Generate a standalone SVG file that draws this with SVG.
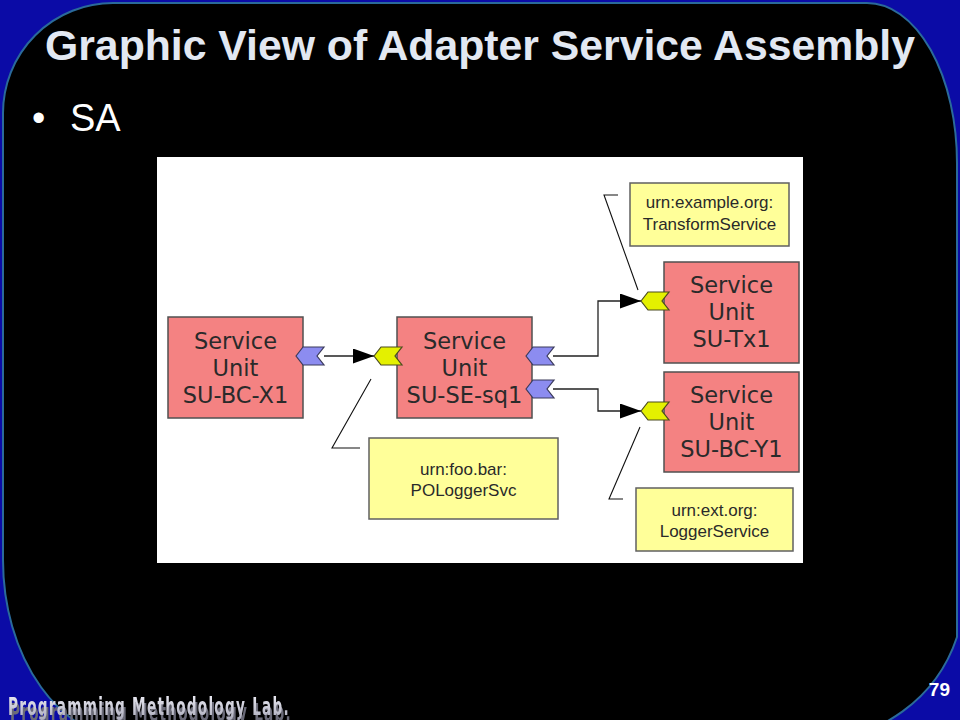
<svg xmlns="http://www.w3.org/2000/svg" width="960" height="720" viewBox="0 0 960 720">
<defs>
<style>
.su{fill:#f48282;stroke:#505050;stroke-width:1.5}
.urn{fill:#ffff99;stroke:#606060;stroke-width:1.5}
.sut{font-family:"DejaVu Sans",Verdana,sans-serif;font-size:22.5px;fill:#2a2a2a;text-anchor:middle}
.urt{font-family:"Liberation Sans",Arial,sans-serif;font-size:17px;fill:#2a2a2a;text-anchor:middle}
.pin-out{fill:#8c8cf0;stroke:#3a3a5a;stroke-width:1.2}
.pin-in{fill:#e4f000;stroke:#4a4a20;stroke-width:1.2}
.wire{fill:none;stroke:#222;stroke-width:1.3}
.call{fill:none;stroke:#111;stroke-width:1.1}
</style>
<path id="chev" d="M0,0 L7,-9 L28,-9 L21,0 L28,9 L7,9 Z"/>
<marker id="arr" markerUnits="userSpaceOnUse" markerWidth="22" markerHeight="16" refX="21" refY="7.5" orient="auto">
<path d="M0,0 L21,7.5 L0,15 Z" fill="#000"/>
</marker>
<linearGradient id="labg" x1="0" y1="0" x2="0" y2="1">
<stop offset="0" stop-color="#f0f0f8"/>
<stop offset="1" stop-color="#a8a8b8"/>
</linearGradient>
<filter id="refl" x="-5%" y="-20%" width="110%" height="160%">
<feOffset in="SourceAlpha" dx="2" dy="6" result="off"/>
<feFlood flood-color="#6a6a78" result="col"/>
<feComposite in="col" in2="off" operator="in" result="sh"/>
<feMerge><feMergeNode in="sh"/><feMergeNode in="SourceGraphic"/></feMerge>
</filter>
</defs>

<rect x="0" y="0" width="960" height="720" fill="#0b0ba6"/>
<path d="M113,3 L867,3 A90,160 0 0 1 957,163 L957,637 A150,150 0 0 1 815,740 L133,740 A130,180 0 0 1 3,560 L3,113 A110,110 0 0 1 113,3 Z" fill="#000" stroke="#2a6a9a" stroke-width="2"/>

<text x="480" y="60" text-anchor="middle" font-family="'Liberation Sans',Arial,sans-serif" font-weight="bold" font-size="42" fill="#e2e8f2" textLength="870" lengthAdjust="spacingAndGlyphs">Graphic View of Adapter Service Assembly</text>
<text x="32" y="131" font-family="'Liberation Sans',Arial,sans-serif" font-size="38" fill="#ffffff">•</text>
<text x="70" y="131" font-family="'Liberation Sans',Arial,sans-serif" font-size="38" fill="#ffffff">SA</text>

<rect x="157" y="157" width="646" height="406" fill="#ffffff"/>

<g id="connectors">
<path class="wire" d="M324,356 H374" marker-end="url(#arr)"/>
<path class="wire" d="M553,356 H598 V301 H641" marker-end="url(#arr)"/>
<path class="wire" d="M553,389 H598 V411 H641" marker-end="url(#arr)"/>
<polyline class="call" points="618,195 604,195 638,290"/>
<polyline class="call" points="371,379 332,448 360,448"/>
<polyline class="call" points="640,427 609,499 623,499"/>
</g>

<g id="su-bc-x1">
<rect class="su" x="168" y="317" width="135" height="101"/>
<text class="sut" x="235.5" y="348.5">Service</text>
<text class="sut" x="235.5" y="375.5">Unit</text>
<text class="sut" x="235.5" y="402.5">SU-BC-X1</text>
<use href="#chev" class="pin-out" x="296" y="356"/>
</g>

<g id="su-se-sq1">
<rect class="su" x="397" y="317" width="135" height="101"/>
<text class="sut" x="464.5" y="348.5">Service</text>
<text class="sut" x="464.5" y="375.5">Unit</text>
<text class="sut" x="464.5" y="402.5">SU-SE-sq1</text>
<use href="#chev" class="pin-in" x="374" y="356"/>
<use href="#chev" class="pin-out" x="526" y="356"/>
<use href="#chev" class="pin-out" x="526" y="389"/>
</g>

<g id="su-tx1">
<rect class="su" x="664" y="262" width="135" height="101"/>
<text class="sut" x="731.5" y="293">Service</text>
<text class="sut" x="731.5" y="320">Unit</text>
<text class="sut" x="731.5" y="347">SU-Tx1</text>
<use href="#chev" class="pin-in" x="641" y="301"/>
</g>

<g id="su-bc-y1">
<rect class="su" x="664" y="372" width="135" height="100"/>
<text class="sut" x="731.5" y="403">Service</text>
<text class="sut" x="731.5" y="430">Unit</text>
<text class="sut" x="731.5" y="457">SU-BC-Y1</text>
<use href="#chev" class="pin-in" x="641" y="411"/>
</g>

<g id="urn-transform">
<rect class="urn" x="630" y="183" width="159" height="63"/>
<text class="urt" x="709.5" y="208">urn:example.org:</text>
<text class="urt" x="709.5" y="230">TransformService</text>
</g>

<g id="urn-pologger">
<rect class="urn" x="369" y="438" width="189" height="81"/>
<text class="urt" x="463.5" y="475">urn:foo.bar:</text>
<text class="urt" x="463.5" y="496">POLoggerSvc</text>
</g>

<g id="urn-logger">
<rect class="urn" x="636" y="488" width="157" height="63"/>
<text class="urt" x="714.5" y="516">urn:ext.org:</text>
<text class="urt" x="714.5" y="537">LoggerService</text>
</g>

<text x="950" y="696" text-anchor="end" font-family="'Liberation Sans',Arial,sans-serif" font-weight="bold" font-size="19" fill="#ffffff">79</text>
<text x="8" y="715" font-family="'DejaVu Sans Condensed','Liberation Sans',sans-serif" font-weight="bold" font-size="24" fill="url(#labg)" letter-spacing="2" textLength="282" lengthAdjust="spacingAndGlyphs" filter="url(#refl)">Programming Methodology Lab.</text>
</svg>
